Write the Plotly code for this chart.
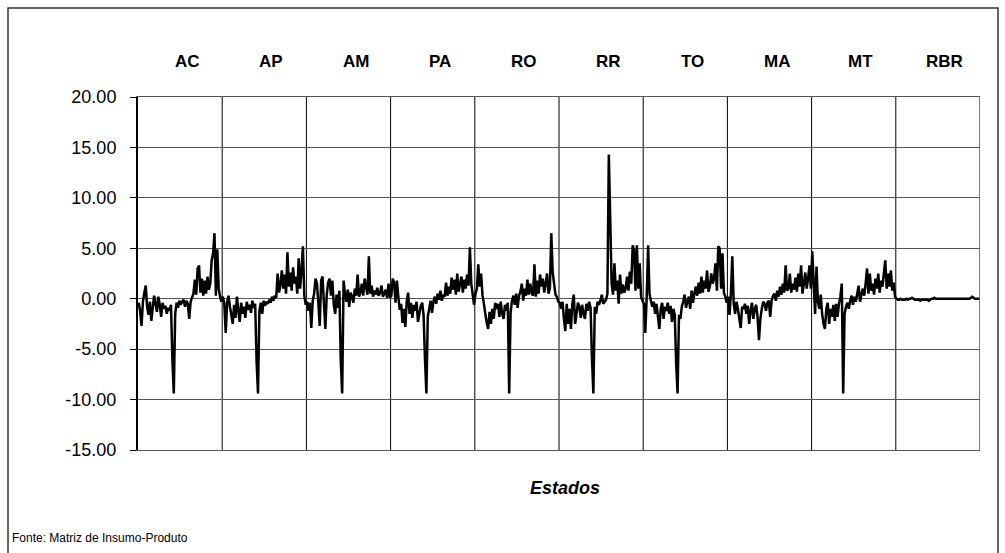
import plotly.graph_objects as go

estados = ["AC", "AP", "AM", "PA", "RO", "RR", "TO", "MA", "MT", "RBR"]

ac = [-0.4, -1.2, -2.7, -0.3, 0.6, 1.3, -0.8, -1.6, -0.3, -2.2, -0.9, 0.3, -0.5, -1.3, 0.2, -0.6, -1.8, -0.4,
      -1.0, -0.7, -1.5, -0.9, -1.2, -0.6,
      -6.0, -9.4,
      -1.5, -0.4, -0.9, -0.2, -0.6, -0.3, -0.1, -0.8, -0.2, -0.5, -2.0, -0.3, 0.1,
      0.5, 1.9, 0.4, 3.0, 3.3, 0.6, 2.0, 0.3, 1.8, 0.5, 2.2, 0.9, 1.5, 3.8, 4.5, 6.5, 0.3, 4.9, 1.0, 0.2, -0.3]
ap = [0.2, -0.5, -3.4, -0.4, 0.3, -0.8, -1.6, -2.5, -0.6, -1.9, 0.2, -1.2, -2.3, -0.4, -1.5, -0.8, -1.9, -0.3,
      -1.1, -0.6, -1.4, -0.2, -0.9, -0.5,
      -6.2, -9.4,
      -1.2, -0.4, -1.5, -0.2, -0.7, -0.3, -0.5, -0.1, -0.4, 0.2, -0.2, 0.3, 0.1,
      2.5, 0.6, 1.4, 2.8, 1.0, 2.4, 0.5, 4.6, 1.2, 2.6, 0.8, 3.1, 1.5, 2.2, 0.5, 4.0, 1.0, 2.8, 5.2, 0.3, -0.6]
am = [-0.3, -1.2, -0.4, -2.9, -0.2, 0.5, 2.0, 1.5, -0.4, -2.7, 1.8, 2.2, -0.5, -3.0, 0.4, 1.6, 2.0, 0.3,
      1.8, -0.6, -1.5, 0.4, -0.9, 0.8,
      -6.2, -9.4,
      1.8, 0.5, -0.3, 0.9, -0.8, 0.6, 0.2, -0.4, 1.0, 0.3, 2.4, 0.2, 0.6,
      1.5, 0.3, 2.0, 1.2, 0.4, 4.2, 0.5, 1.3, 0.2, 0.8, 0.4, 1.1, 0.3, 0.6, 1.3, 0.2, 0.5, 0.9, 0.1, 1.5, 0.1]
pa = [0.3, 2.0, 1.6, -0.4, 1.8, 0.2, -1.1, -0.5, -2.4, -1.0, -2.8, -0.3, 0.6, -1.5, -0.4, -1.9, -0.6, -1.2,
      -0.3, -2.3, -1.5, -0.7, -0.4, -1.6,
      -6.0, -9.4,
      -1.8, -1.0, -0.2, -1.4, -0.3, 0.2, -0.5, 0.5, -0.1, 0.8, -0.2, 0.4, 0.2,
      1.6, 0.3, 1.2, 0.5, 2.1, 0.9, 1.9, 0.4, 2.5, 0.7, 1.5, 2.2, 0.6, 1.9, 1.0, 2.4, 1.3, 5.1, 1.5, 0.4, -0.6]
ro = [0.5, 1.0, 3.4, 1.2, 2.5, 0.3, -0.5, -1.5, -2.4, -3.0, -1.3, -2.5, -1.0, -2.0, -0.4, -1.0, -0.5, -1.8,
      -0.3, -1.5, -2.0, -0.6, -1.2, -0.4,
      -9.4, -1.4,
      -0.2, 0.3, -0.6, 0.5, -0.9, 0.3, 0.7, 1.5, -0.2, 1.0, 0.3, 1.9, 0.4,
      1.5, 0.6, 0.3, 3.4, 0.2, 1.8, 0.5, 2.4, 1.2, 2.0, 0.6, 1.5, 2.5, 0.5, 1.0, 6.5, 2.6, 1.5, 0.4, 0.2, -0.3]
rr = [-0.4, -1.0, -0.3, -2.0, -3.2, -0.5, -2.5, -1.0, -3.0, -0.5, 0.4, -2.5, -1.5, -0.4, -0.8, -1.9, -0.6, -1.5,
      -2.0, -0.5, -1.2, -0.3, -0.9, -6.0,
      -9.4, -0.8,
      -1.5, -0.3, -0.6, -0.2, 0.4, -0.5, -0.3, -0.1, 0.5, 14.3, 8.0, 1.5, 0.4,
      3.5, 0.8, 1.8, -0.5, 2.4, 0.5, 1.4, 0.6, 1.0, 2.2, 0.8, 2.7, 1.5, 5.3, 4.8, 0.8, 5.3, 1.0, 3.5, 0.2, -0.2]
to = [-0.5, -3.4, 0.2, 5.3, 0.5, -0.2, -0.8, -0.3, -1.5, -0.5, -1.8, -3.0, -1.0, -0.4, -2.0, -0.8, -1.2, -0.4,
      -1.5, -0.7, -2.3, -1.0, -1.6, -6.5,
      -9.4, -1.6,
      -2.0, -0.8, -0.3, 0.4, -0.9, -0.3, 0.2, -1.0, 0.8, -0.4, 0.5, 1.2, 0.3,
      1.6, 0.5, 2.2, 0.6, 1.8, 1.0, 2.8, 0.7, 1.2, 2.5, 1.5, 2.0, 3.5, 0.8, 5.2, 5.0, 1.0, 4.5, 0.6, 0.2, -0.4]
ma = [0.2, -1.6, 0.5, 4.2, -0.5, -1.5, -0.3, -1.0, -2.0, -2.9, -0.8, -1.0, -0.5, -1.5, -0.7, -2.5, -1.2, -0.4,
      -2.0, -1.0, -0.6, -1.8, -4.1, -2.0,
      -1.0, -0.3,
      -0.5, -1.2, -0.4, -0.2, -1.8, -0.2, 0.3, 0.5, -0.2, 0.8, 0.2, 1.2, 0.4,
      1.5, 0.6, 3.3, 0.8, 1.0, 2.5, 0.6, 1.5, 0.9, 2.1, 0.7, 2.5, 1.2, 3.3, 0.5, 1.5, 2.6, 1.0, 2.0, 3.3, 1.0]
mt = [4.7, 1.5, -1.5, 3.2, -0.3, -1.0, 0.4, -1.5, -2.5, -3.0, -1.0, -0.4, -2.5, -1.0, -1.8, -0.6, -2.2, -0.5,
      -1.8, -0.5, 0.2, 1.5, -9.4, -1.5, -0.8, -0.4, -1.0, -0.2, 0.3, -0.6, 0.2, -0.3, 0.5, 1.3, -0.3, 0.4,
      1.0, 0.3, 1.5, 3.0, 0.5, 2.5, 0.8, 1.5, 0.4, 2.0, 1.0, 2.5, 0.6, 1.8, 1.2, 2.5, 3.8, 1.0, 2.5, 1.2,
      2.8, 0.8, 1.6, 0.2]
rbr = [0.0, -0.1, -0.1, 0.0, -0.1, -0.1, -0.1, 0.0, -0.1, 0.0, 0.0, 0.1, 0.0, -0.1, -0.1, -0.1, -0.1, -0.2,
       -0.1, -0.1, -0.1, -0.1, -0.1, -0.2, -0.1, 0.0, 0.0, 0.1, 0.0, 0.0, 0.0, 0.0, 0.0, 0.0, 0.0, 0.0,
       0.0, 0.0, 0.0, 0.0, 0.0, 0.0, 0.0, 0.0, 0.0, 0.0, 0.0, 0.0, 0.0, 0.0, 0.0, 0.0, 0.0, 0.1, 0.2,
       0.1, 0.0, 0.0, 0.0, 0.0]

series = [ac, ap, am, pa, ro, rr, to, ma, mt, rbr]
y_ticks = [20, 15, 10, 5, 0, -5, -10, -15]
y_labels = ["20.00", "15.00", "10.00", "5.00", "0.00", "-5.00", "-10.00", "-15.00"]

xs, ys = [], []
for b, vals in enumerate(series):
    n = len(vals)
    for i, v in enumerate(vals):
        xs.append(b + (i + 0.5) / n)
        ys.append(v)

FONT = "Liberation Sans, Arial, sans-serif"

fig = go.Figure()
fig.add_trace(go.Scatter(x=xs, y=ys, mode="lines",
                         line=dict(color="black", width=2.5, simplify=False), hoverinfo="skip"))

shapes = []
for k in range(1, 11):
    shapes.append(dict(type="line", xref="x", yref="paper", x0=k, x1=k, y0=0, y1=1,
                       line=dict(color="black", width=1), layer="below"))
# outer chart-area border
shapes.append(dict(type="rect", xref="paper", yref="paper",
                   x0=(8 - 138) / 842, x1=(998 - 138) / 842,
                   y0=(450 - 600) / 353, y1=(450 - 8) / 353,
                   line=dict(color="#333", width=1.5), fillcolor="rgba(0,0,0,0)", layer="below"))

annotations = []
for b, name in enumerate(estados):
    annotations.append(dict(x=b + 0.5, y=(450 - 62) / 353, xref="x", yref="paper",
                            text="<b>%s</b>" % name, showarrow=False, xshift=7,
                            yanchor="middle",
                            font=dict(family=FONT, size=17, color="black")))
annotations.append(dict(x=(565 - 138) / 842, y=(450 - 488) / 353, xref="paper", yref="paper",
                        text="<b><i>Estados</i></b>", showarrow=False, yanchor="middle",
                        font=dict(family=FONT, size=18, color="black")))
annotations.append(dict(x=(10 - 138) / 842, y=(450 - 538) / 353, xref="paper", yref="paper",
                        text="Fonte: Matriz de Insumo-Produto", showarrow=False, xanchor="left",
                        yanchor="middle",
                        font=dict(family=FONT, size=12, color="black")))

fig.update_layout(
    width=1005, height=553,
    margin=dict(l=138, r=25, t=97, b=103),
    paper_bgcolor="white", plot_bgcolor="white",
    showlegend=False,
    shapes=shapes, annotations=annotations,
    xaxis=dict(range=[0, 10], showgrid=False, zeroline=False, showticklabels=False,
               showline=True, mirror=True, linecolor="#555", linewidth=1, ticks=""),
    yaxis=dict(range=[-15, 20], tickvals=y_ticks, ticktext=y_labels,
               showgrid=True, gridcolor="#555", gridwidth=1, zeroline=False,
               showline=True, linecolor="black", linewidth=2,
               ticks="outside", ticklen=6, tickcolor="black",
               ticklabelstandoff=10,
               tickfont=dict(family=FONT, size=18, color="black")),
)

fig.write_html("out.html")
